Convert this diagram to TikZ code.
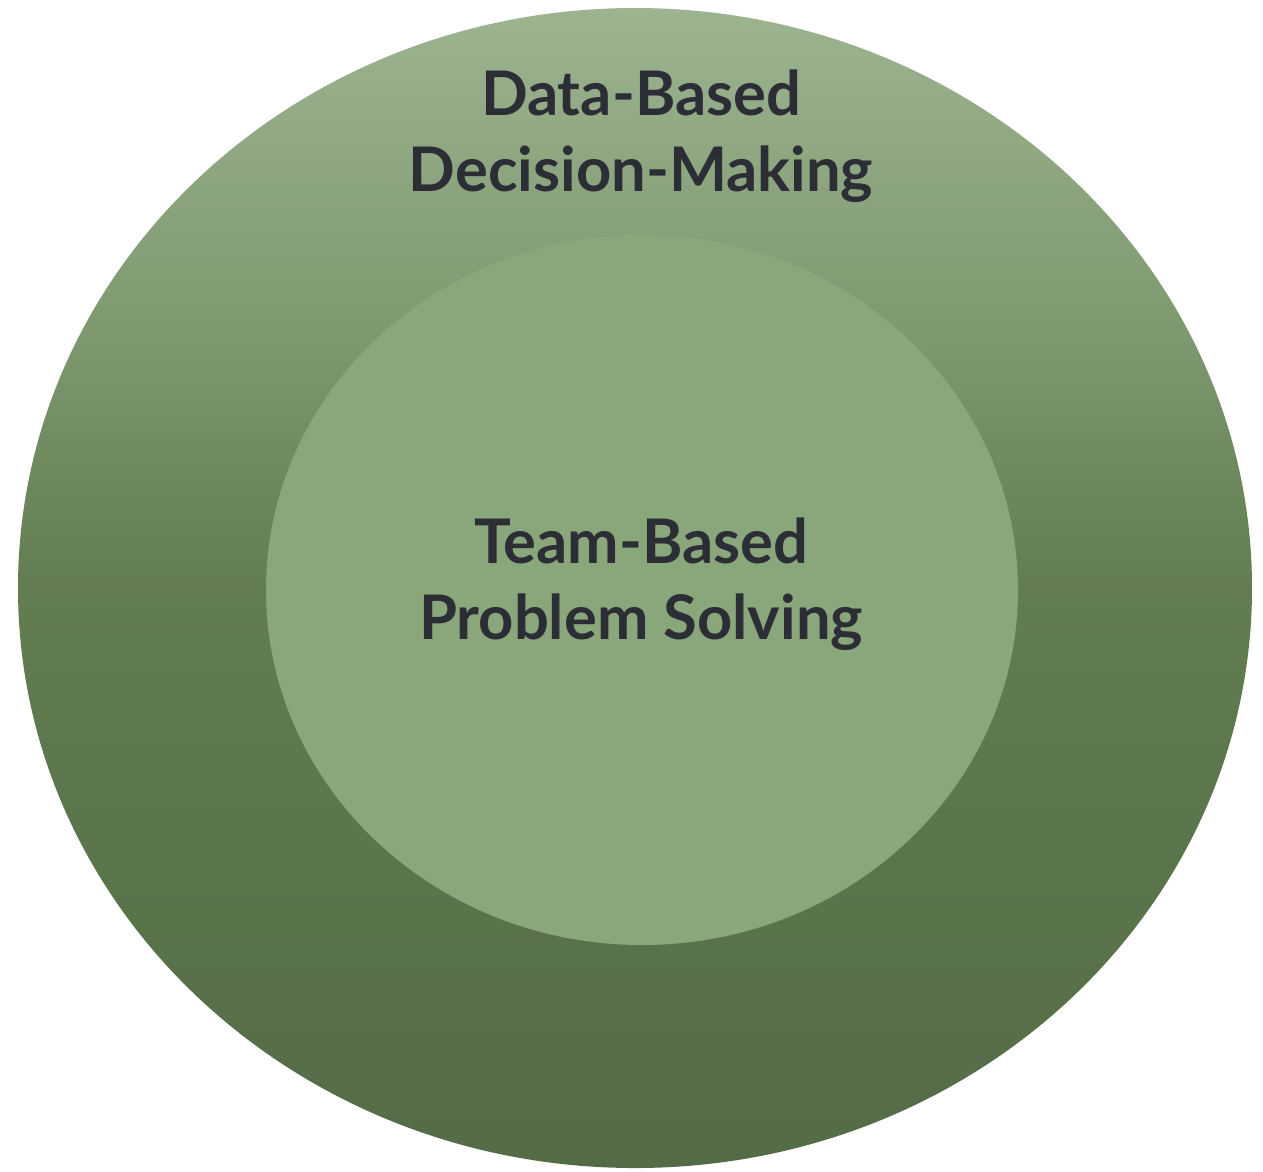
\documentclass[tikz,border=0pt]{standalone}
\usepackage{fontspec}
\setmainfont{Lato}
\usetikzlibrary{positioning}
\definecolor{ringtop}{HTML}{9CB490}
\definecolor{ringhigh}{HTML}{809A72}
\definecolor{ringmid}{HTML}{637D51}
\definecolor{ringlow}{HTML}{5B764D}
\definecolor{ringbot}{HTML}{546B47}
\definecolor{corefill}{HTML}{8AA67B}
\definecolor{labelink}{HTML}{2B2E35}
\pgfdeclareverticalshading{ringshade}{100bp}{color(0bp)=(ringbot); color(25bp)=(ringbot); color(40bp)=(ringlow); color(50bp)=(ringmid); color(62bp)=(ringhigh); color(75bp)=(ringtop); color(100bp)=(ringtop)}

\begin{document}
\begin{tikzpicture}[x=0.02cm, y=-0.02cm]
        \tikzstyle{ringtext}=[text=labelink, align=center, inner sep=0pt, font=\fontsize{35}{43}\selectfont\bfseries]

        % Page frame
        \useasboundingbox (0,0) rectangle (1263,1171);

        % Outer ring
        \shade[shading=ringshade] (635,588) ellipse [x radius=617, y radius=580];

        % Inner disc
        \fill[corefill] (642,590) ellipse [x radius=376, y radius=355];

        % Labels
        \node[ringtext] (datadecision) at (641,136) {Data-Based\\Decision-Making};
        \node[ringtext] (teamproblem) at (641,584) {Team-Based\\Problem Solving};
    \end{tikzpicture}
\end{document}
